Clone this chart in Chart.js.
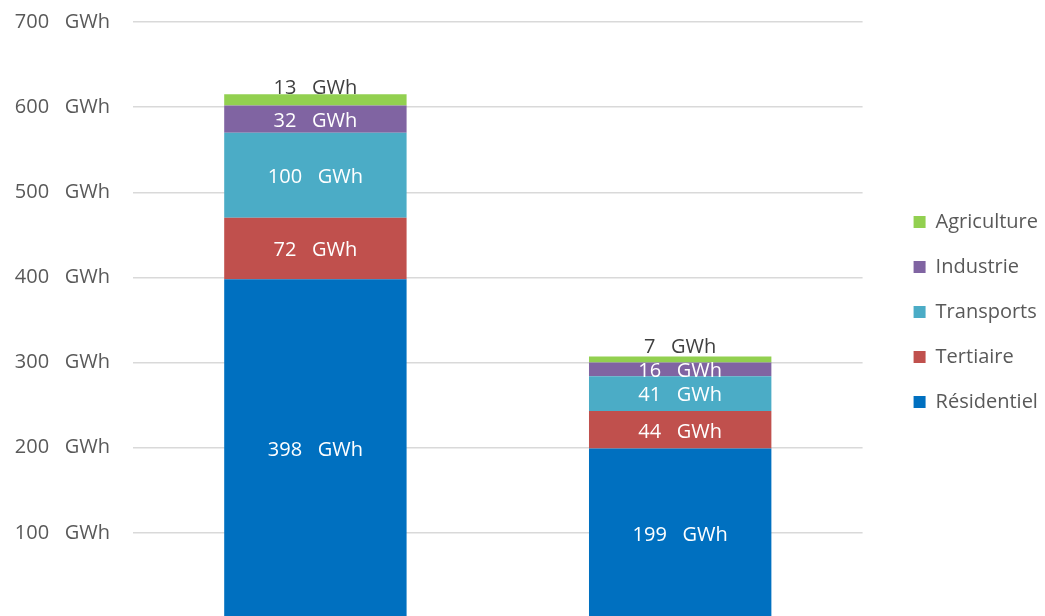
<!DOCTYPE html>
<html>
<head>
<meta charset="utf-8">
<script src="https://cdn.jsdelivr.net/npm/chart.js@4/dist/chart.umd.min.js"></script>
<style>
  html, body { margin: 0; padding: 0; background: #fff; overflow: hidden; }
  #wrap { position: absolute; left: 0; top: 0; width: 1045px; height: 660px; }
</style>
</head>
<body>
<div id="wrap"><canvas id="myChart"></canvas></div>
<script>
// categories (x labels are cut off in the picture)
const categories = ['Actuel', 'Objectif'];

// series, bottom to top
const residentiel = [398, 199];
const tertiaire = [72, 44];
const transports = [100, 41];
const industrie = [32, 16];
const agriculture = [13, 7];

const yTicks = [0, 100, 200, 300, 400, 500, 600, 700];
const unit = 'GWh';
const sep = '   ';

const FONT = '"Open Sans", "Noto Sans", sans-serif';

// draws the value labels on each segment
const valueLabels = {
    id: 'valueLabels',
    afterDatasetsDraw(chart) {
        const ctx = chart.ctx;
        ctx.save();
        ctx.font = '20px ' + FONT;
        ctx.textAlign = 'center';
        ctx.textBaseline = 'middle';
        chart.data.datasets.forEach((ds, i) => {
            const meta = chart.getDatasetMeta(i);
            meta.data.forEach((bar, j) => {
                let y = (bar.y + bar.base) / 2 + 2;
                if (ds.label === 'Agriculture') {
                    ctx.fillStyle = '#404040';
                    y -= 14;
                } else {
                    ctx.fillStyle = '#ffffff';
                }
                ctx.fillText(ds.data[j] + sep + unit, bar.x, y);
            });
        });
        ctx.restore();
    }
};

// nudge the legend to where it sits in the picture
const legendShift = {
    id: 'legendShift',
    afterLayout(chart) {
        const lg = chart.legend;
        lg.left += 26; lg.right += 26;
        lg.top += 3; lg.bottom += 3;
    }
};

const data = {
    labels: categories,
    datasets: [
        { label: 'Résidentiel', data: residentiel, backgroundColor: '#0070C0' },
        { label: 'Tertiaire', data: tertiaire, backgroundColor: '#C0504D' },
        { label: 'Transports', data: transports, backgroundColor: '#4BACC6' },
        { label: 'Industrie', data: industrie, backgroundColor: '#8064A2' },
        { label: 'Agriculture', data: agriculture, backgroundColor: '#92D050' }
    ]
};

const config = {
    type: 'bar',
    data: data,
    options: {
        responsive: true,
        maintainAspectRatio: false,
        animation: false,
        categoryPercentage: 1,
        barPercentage: 0.5,
        layout: {
            padding: { top: 0, bottom: 42, left: 0, right: 23 }
        },
        plugins: {
            tooltip: { enabled: false },
            legend: {
                position: 'right',
                reverse: true,
                labels: {
                    boxWidth: 12,
                    boxHeight: 12,
                    padding: 25,
                    color: '#595959',
                    font: { family: FONT, size: 20 }
                }
            }
        },
        scales: {
            x: {
                stacked: true,
                display: false
            },
            y: {
                stacked: true,
                min: 0,
                max: 700,
                afterBuildTicks: (scale) => {
                    scale.ticks = yTicks.map(v => ({ value: v }));
                },
                afterFit: (scale) => {
                    scale.width = 133;
                },
                border: { display: false },
                grid: {
                    color: '#D9D9D9',
                    lineWidth: 1.5,
                    drawTicks: true,
                    tickLength: 13,
                    tickColor: 'rgba(0,0,0,0)'
                },
                ticks: {
                    padding: 10,
                    color: '#595959',
                    font: { family: FONT, size: 20 },
                    callback: function (value) {
                        return value === 0 ? '' : value + sep + unit;
                    }
                }
            }
        }
    },
    plugins: [valueLabels, legendShift]
};

window.myChart = new Chart(document.getElementById('myChart'), config);
</script>
</body>
</html>
